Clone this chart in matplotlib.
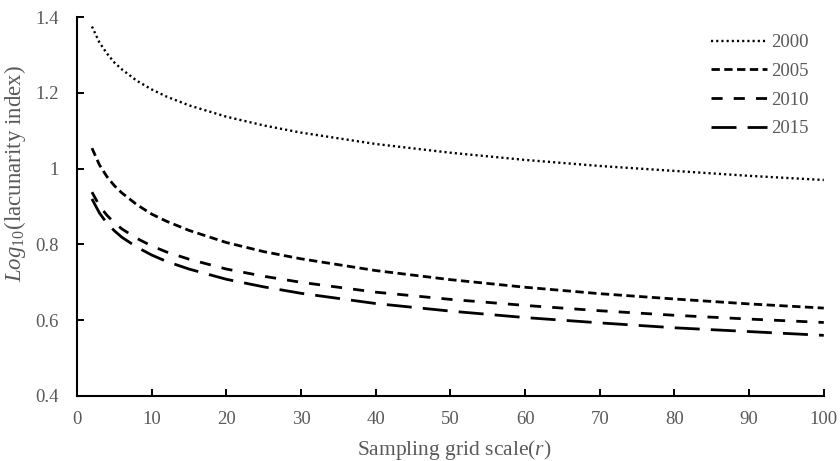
import matplotlib
matplotlib.use("Agg")
import matplotlib.pyplot as plt

plt.rcParams['font.family'] = ['Liberation Serif', 'DejaVu Serif']
plt.rcParams['mathtext.fontset'] = 'custom'
plt.rcParams['mathtext.rm'] = 'Liberation Serif'
plt.rcParams['mathtext.it'] = 'Liberation Serif:italic'

x = [2, 3, 4, 5, 6, 8, 10, 12, 15, 20, 25, 30, 40, 50, 60, 70, 80, 90, 100]
y2000 = [1.375, 1.333, 1.304, 1.280, 1.262, 1.232, 1.209, 1.190, 1.167, 1.137,
         1.114, 1.095, 1.065, 1.042, 1.023, 1.007, 0.994, 0.981, 0.970]
y2005 = [1.054, 1.010, 0.979, 0.955, 0.936, 0.905, 0.880, 0.861, 0.837, 0.805,
         0.781, 0.762, 0.731, 0.707, 0.687, 0.670, 0.656, 0.643, 0.632]
y2010 = [0.938, 0.902, 0.877, 0.857, 0.841, 0.816, 0.796, 0.780, 0.761, 0.735,
         0.716, 0.700, 0.674, 0.655, 0.639, 0.625, 0.613, 0.603, 0.594]
y2015 = [0.920, 0.883, 0.856, 0.836, 0.819, 0.793, 0.772, 0.755, 0.735, 0.708,
         0.688, 0.671, 0.644, 0.624, 0.607, 0.593, 0.580, 0.570, 0.560]
labels = ['2000', '2005', '2010', '2015']

fig = plt.figure(figsize=(8.4, 4.61), dpi=100)
ax = fig.add_axes([0.0917, 0.141, 0.889, 0.822])

lw = 2.0
ax.plot(x, y2000, color='black', lw=1.7, linestyle=(0, (0.9, 1.3)), label=labels[0])
ax.plot(x, y2005, color='black', lw=lw, linestyle=(0, (3.0, 1.6)), label=labels[1])
ax.plot(x, y2010, color='black', lw=lw, linestyle=(0, (4.0, 4.0)), label=labels[2])
ax.plot(x, y2015, color='black', lw=lw, linestyle=(0, (9.0, 4.0)), label=labels[3])

ax.set_xlim(0, 100)
ax.set_ylim(0.4, 1.4)
ax.set_xticks(range(0, 101, 10))
ax.set_yticks([0.4, 0.6, 0.8, 1.0, 1.2, 1.4])
ax.set_yticklabels(['0.4', '0.6', '0.8', '1', '1.2', '1.4'])
ax.tick_params(direction='in', length=5, width=1.4, labelsize=13.5, labelcolor='#595959')
ax.tick_params(axis='x', pad=11)
ax.tick_params(axis='y', pad=13)
for s in ['top', 'right']:
    ax.spines[s].set_visible(False)
for s in ['left', 'bottom']:
    ax.spines[s].set_linewidth(1.5)

ax.set_xlabel(r'Sampling grid scale($\mathit{r}$)', fontsize=15.5, color='#595959')
ax.set_ylabel(r'$\mathit{Log}_{\mathit{10}}$(lacunarity index)', fontsize=16.5, color='#595959')
ax.xaxis.set_label_coords(0.505, -0.11)
ax.yaxis.set_label_coords(-0.066, 0.586)

leg = ax.legend(loc='upper left', bbox_to_anchor=(711 / 840, 1 - 34 / 461),
                bbox_transform=fig.transFigure, frameon=False, fontsize=13.5,
                handlelength=3.0, labelspacing=0.62, handletextpad=0.2,
                borderpad=0, borderaxespad=0)
for t in leg.get_texts():
    t.set_color('#595959')

fig.savefig('out.png', dpi=100)
